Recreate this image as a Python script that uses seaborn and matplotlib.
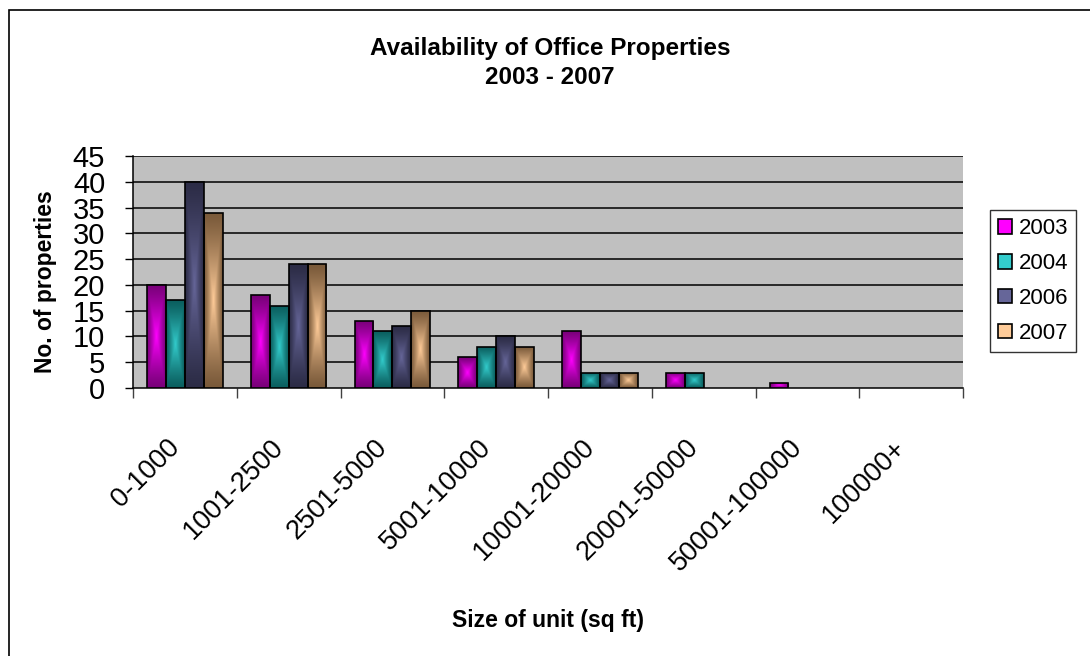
import numpy as np
import pandas as pd
import matplotlib.pyplot as plt
import matplotlib.transforms as mtransforms
from matplotlib.colors import to_rgb
from matplotlib.patches import Patch, Rectangle
import seaborn as sns

# Data
sizes = ["0-1000", "1001-2500", "2501-5000", "5001-10000", "10001-20000",
         "20001-50000", "50001-100000", "100000+"]
years = ["2003", "2004", "2006", "2007"]
y2003 = [20, 18, 13, 6, 11, 3, 1, 0]
y2004 = [17, 16, 11, 8, 3, 3, 0, 0]
y2006 = [40, 24, 12, 10, 3, 0, 0, 0]
y2007 = [34, 24, 15, 8, 3, 0, 0, 0]

# bright centre colour and dark edge colour for the Excel-ish gradient
centre = ["#FF00FF", "#33CCCC", "#666699", "#FFCC99"]
edge = ["#7A007A", "#0B5F5F", "#2C2C46", "#7A5A3A"]

df = pd.DataFrame({
    "size": sizes * 4,
    "year": np.repeat(years, len(sizes)),
    "count": y2003 + y2004 + y2006 + y2007,
})

sns.set_style("white")
plt.rcParams["font.family"] = ["Liberation Sans", "DejaVu Sans"]
plt.rcParams["text.color"] = "black"
plt.rcParams["axes.labelcolor"] = "black"
plt.rcParams["xtick.color"] = "black"
plt.rcParams["ytick.color"] = "black"

fig = plt.figure(figsize=(10.9, 6.56), dpi=100)
ax = fig.add_axes([133 / 1090, 1 - 388 / 656, 830 / 1090, 232 / 656])
ax.set_facecolor("#C0C0C0")

sns.barplot(data=df, x="size", y="count", hue="year", palette=centre,
            width=0.73, gap=0, saturation=1, legend=False, ax=ax,
            edgecolor="black", linewidth=1.2, zorder=3)

# gradient fill for each bar
lookup = {to_rgb(c): to_rgb(e) for c, e in zip(centre, edge)}
n = 60
u = np.linspace(-1, 1, n)
U, V = np.meshgrid(u, u)
t = np.maximum(np.abs(U), np.abs(V))
for p in list(ax.patches):
    h = p.get_height()
    if h <= 0:
        p.set_visible(False)
        continue
    c = np.array(to_rgb(p.get_facecolor()))
    key = min(lookup, key=lambda k: np.sum((np.array(k) - c) ** 2))
    e = np.array(lookup[key])
    img = e + (c - e) * (1 - t[..., None]) ** 1.2
    x0 = p.get_x()
    w = p.get_width()
    im = ax.imshow(img, extent=[x0, x0 + w, 0, h], aspect="auto",
                   interpolation="bilinear", zorder=2.9)
    im.set_clip_path(p)
    p.set_facecolor("none")

ax.set_xlim(-0.5, 7.5)
ax.set_ylim(0, 45)
ax.set_yticks(range(0, 46, 5))
ax.grid(False)
for yv in range(5, 46, 5):
    ax.axhline(yv, color="black", lw=1.1, zorder=1)

for s in ["top", "right"]:
    ax.spines[s].set_visible(False)
ax.spines["left"].set_color("black")
ax.spines["bottom"].set_color("black")
ax.spines["left"].set_linewidth(1.1)
ax.spines["bottom"].set_linewidth(1.1)

ax.tick_params(axis="y", direction="out", length=6, width=1, color="black",
               labelsize=21, pad=14, left=True)
ax.set_xticks(np.arange(-0.5, 8, 1), minor=True)
ax.tick_params(axis="x", which="minor", direction="out", length=7, width=1,
               color="#404040", bottom=True)
ax.tick_params(axis="x", which="major", length=0, pad=40, labelsize=19.5)
ax.set_xticks(range(len(sizes)))
ax.set_xticklabels(sizes, rotation=45, ha="right", va="center",
                   rotation_mode="anchor")
shift = mtransforms.ScaledTranslation(-9 / 100, 0, fig.dpi_scale_trans)
for lab in ax.get_xticklabels():
    lab.set_transform(lab.get_transform() + shift)

ax.set_xlabel("Size of unit (sq ft)", fontsize=16.5, fontweight="bold")
ax.xaxis.set_label_coords(0.5, (388 - 620) / 232)
ax.xaxis.label.set_va("center")
ax.set_ylabel("No. of properties", fontsize=16.5, fontweight="bold")
ax.yaxis.set_label_coords((46 - 133) / 830, 0.46)
ax.yaxis.label.set_va("center")

fig.text(550 / 1090, 1 - 63 / 656, "Availability of Office Properties\n2003 - 2007",
         ha="center", va="center", fontsize=17.5, fontweight="bold",
         linespacing=1.35)

handles = [Patch(facecolor=c, edgecolor="black", linewidth=1.2) for c in centre]
leg = fig.legend(handles, years, loc="center left",
                 bbox_to_anchor=(990 / 1090, 1 - 281 / 656), fontsize=16,
                 frameon=True, fancybox=False, edgecolor="black",
                 handlelength=0.63, handleheight=0.63, handletextpad=0.3,
                 labelspacing=0.62, borderpad=0.36, borderaxespad=0)
leg.get_frame().set_linewidth(1.0)

fig.add_artist(Rectangle((9 / 1090, -0.1), 1.2, 1 - 10 / 656 + 0.1,
                         transform=fig.transFigure, fill=False,
                         edgecolor="black", linewidth=1.2))

fig.savefig("out.png", dpi=100, facecolor="white")
